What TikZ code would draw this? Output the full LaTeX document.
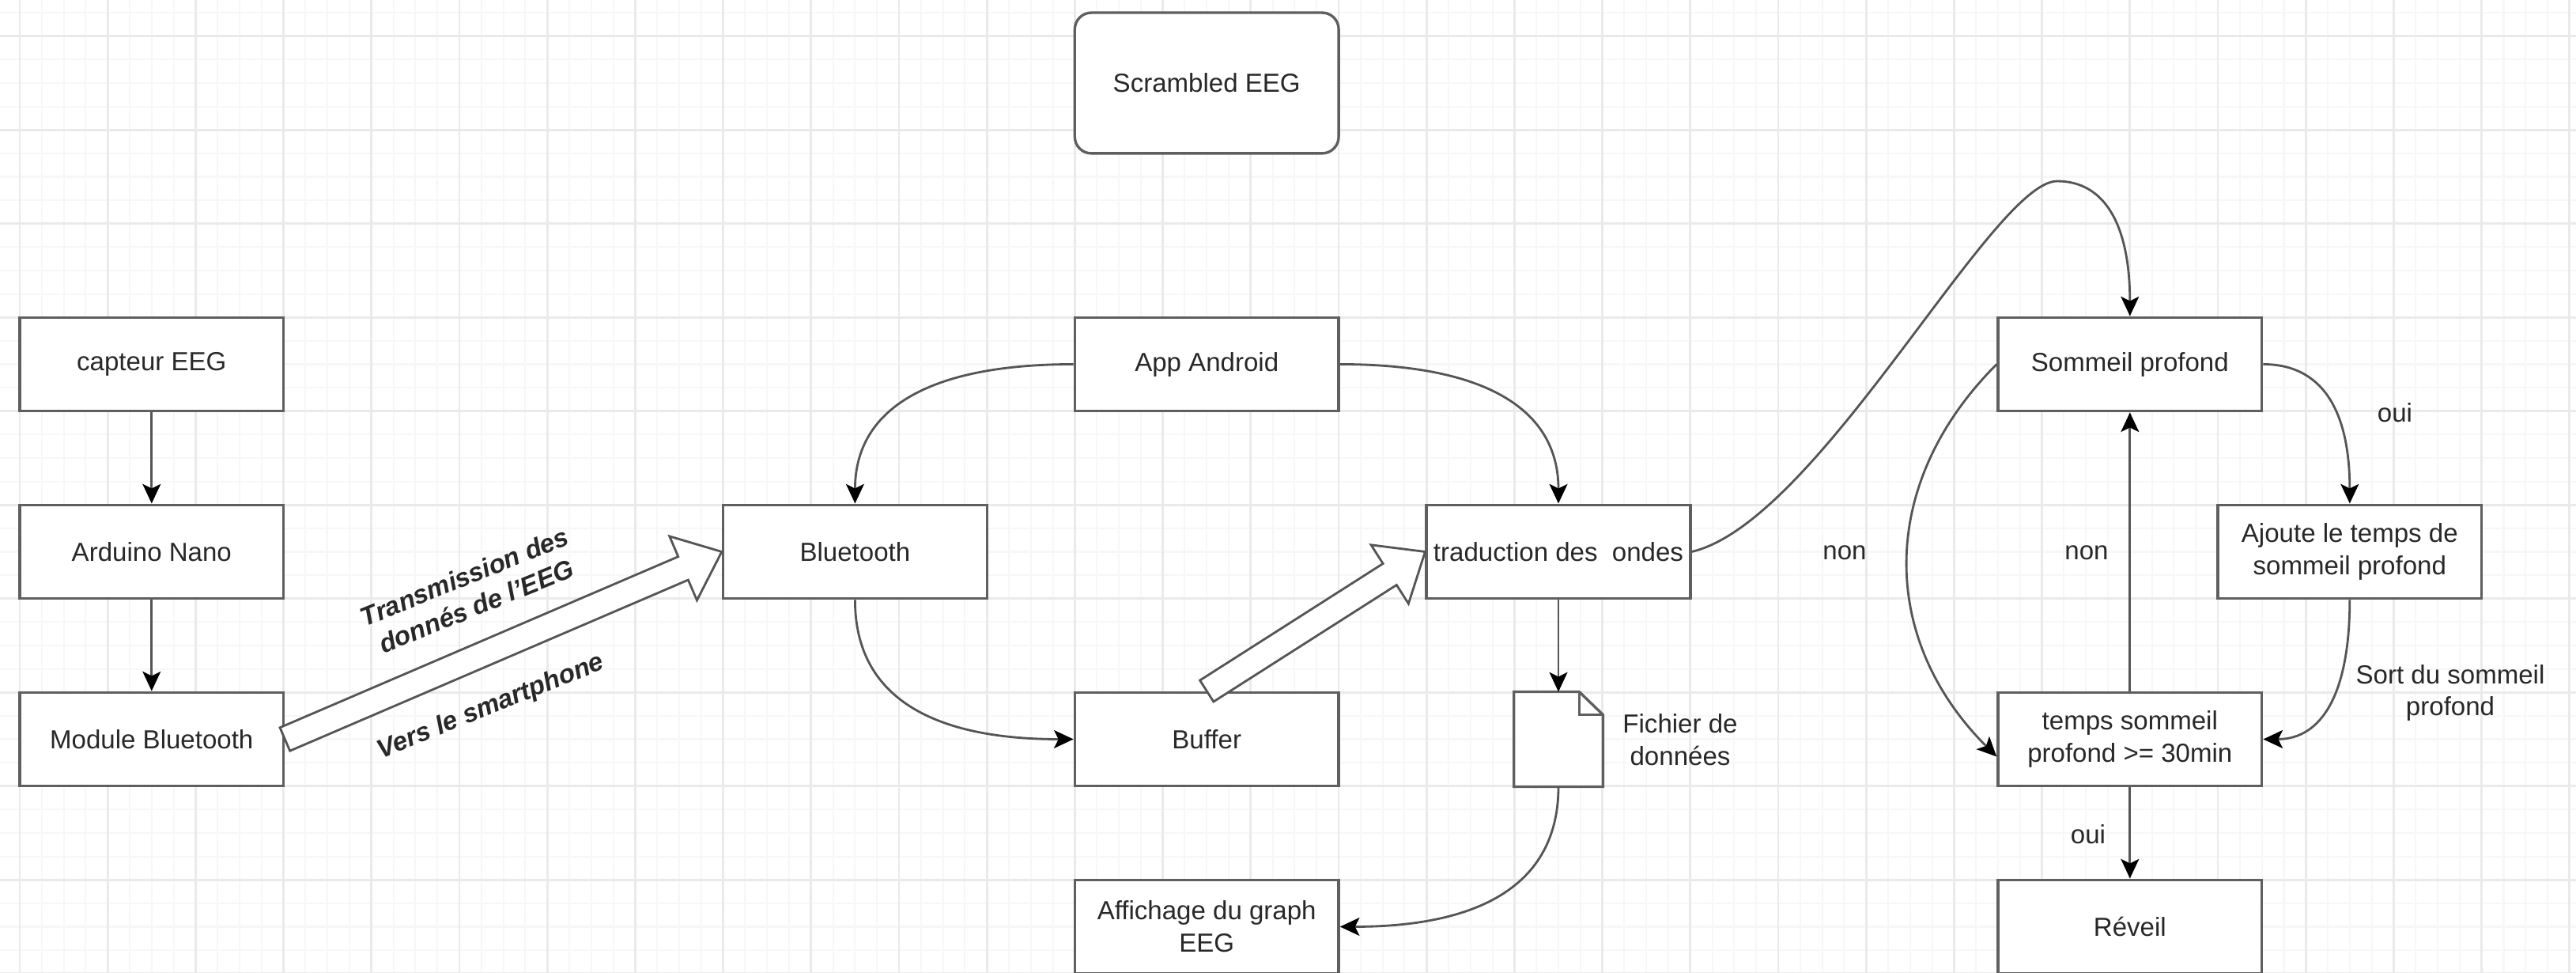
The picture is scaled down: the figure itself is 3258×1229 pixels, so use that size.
\documentclass[tikz,border=0pt]{standalone}
\usepackage{fontspec}
\setmainfont{Liberation Sans}
\usetikzlibrary{arrows.meta,calc}
\definecolor{edgegray}{RGB}{85,85,85}
\definecolor{boxgray}{RGB}{95,95,95}
\definecolor{txt}{RGB}{40,40,40}
\definecolor{gridmajor}{RGB}{234,234,234}
\definecolor{gridminor}{RGB}{247,247,247}
\tikzset{
  box/.style={draw=boxgray, line width=0.95pt, fill=white, minimum width=3.336cm, minimum height=1.185cm,
    inner sep=0pt, text=txt, font=\fontsize{9.4}{11.6}\selectfont, align=center},
  lbl/.style={text=txt, font=\fontsize{9.4}{11.6}\selectfont, align=center, inner sep=0pt},
  slantlbl/.style={text=txt, font=\fontsize{9.4}{11.4}\selectfont\bfseries\itshape, align=center, inner sep=0pt, rotate=22},
  conn/.style={draw=edgegray, line width=0.8pt, -{Stealth[length=7pt,width=6.5pt,inset=1.6pt,color=black]}},
  flex/.style={draw=edgegray, line width=0.8pt, fill=white},
  docshape/.style={draw=boxgray, line width=0.95pt, fill=white},
}
\newcommand{\hollowarrow}[2]{%
  \path (#1) coordinate (ha-a) (#2) coordinate (ha-b);
  \coordinate (ha-c) at ($(ha-b)!0.53cm!(ha-a)$);
  \filldraw[flex] ($(ha-a)!0.16cm!90:(ha-b)$) -- ($(ha-c)!0.16cm!-90:(ha-a)$)
    -- ($(ha-c)!0.44cm!-90:(ha-a)$) -- (ha-b) -- ($(ha-c)!0.44cm!90:(ha-a)$)
    -- ($(ha-c)!0.16cm!90:(ha-a)$) -- ($(ha-a)!0.16cm!-90:(ha-b)$) -- cycle;
}
\begin{document}
\begin{tikzpicture}[x=0.01cm, y=-0.01cm]
\useasboundingbox (0,0) rectangle (3258,1229);
\fill[white] (0,0) rectangle (3258,1229);
% grid
\foreach \j in {0,...,116} \draw[gridminor, line width=0.6pt] ({25+27.8*\j},0) -- ({25+27.8*\j},1229);
\foreach \i in {-1,...,40} \draw[gridminor, line width=0.6pt] (0,{45.7+29.625*\i}) -- (3258,{45.7+29.625*\i});
\foreach \j in {0,...,29} \draw[gridmajor, line width=0.8pt] ({25+111.2*\j},0) -- ({25+111.2*\j},1229);
\foreach \i in {0,...,10} \draw[gridmajor, line width=0.8pt] (0,{45.7+118.5*\i}) -- (3258,{45.7+118.5*\i});

% nodes
\node[box] (capteur) at (191.8,460.45) {capteur EEG};
\node[box] (arduino) at (191.8,697.45) {Arduino Nano};
\node[box] (module) at (191.8,934.45) {Module Bluetooth};
\node[box, rounded corners=0.21cm, minimum height=1.7775cm] (scrambled) at (1526.2,104.95) {Scrambled EEG};
\node[box] (android) at (1526.2,460.45) {App Android};
\node[box] (bt) at (1081.4,697.45) {Bluetooth};
\node[box] (trad) at (1971,697.45) {traduction des\ \ ondes};
\node[box] (buffer) at (1526.2,934.45) {Buffer};
\node[box] (affichage) at (1526.2,1171.45) {Affichage du graph\\EEG};
\node[box] (somm) at (2693.8,460.45) {Sommeil profond};
\node[box] (ajoute) at (2971.8,697.45) {Ajoute le temps de\\sommeil profond};
\node[box] (temps) at (2693.8,934.45) {temps sommeil\\profond >= 30min};
\node[box] (reveil) at (2693.8,1171.45) {Réveil};

% document shape
\node[minimum width=1.112cm, minimum height=1.185cm, inner sep=0pt] (doc) at (1971,934.45) {};
\draw[docshape] (doc.south west) -- (doc.north west) -- ([xshift=-0.3cm]doc.north east)
  -- ([yshift=-0.29cm]doc.north east) -- (doc.south east) -- cycle;
\draw[docshape, fill=none] ([xshift=-0.3cm]doc.north east) |- ([yshift=-0.29cm]doc.north east);

% connectors
\draw[conn] (capteur) -- (arduino);
\draw[conn] (arduino) -- (module);
\draw[conn] (android.west) .. controls +(-185.3,0) and +(0,-118.5) .. (bt.north);
\draw[conn] (android.east) .. controls +(185.3,0) and +(0,-118.5) .. (trad.north);
\draw[conn] (bt.south) .. controls +(0,118.5) and +(-185.3,0) .. (buffer.west);
\draw[conn] (trad) -- (doc);
\draw[conn] (doc.south) .. controls +(0,118.5) and +(185.3,0) .. (affichage.east);
\draw[conn] (trad.east) .. controls (2300,660) and (2520,229) .. (2601.7,229)
  .. controls (2663,229) and (2693.8,286) .. (somm.north);
\draw[conn] (somm.east) .. controls +(74.1,0) and +(0,-118.5) .. (ajoute.north);
\draw[conn] (ajoute.south) .. controls +(0,118.5) and +(74.1,0) .. (temps.east);
\draw[conn] (somm.west) .. controls +(-150,150) and +(-150,-150) .. ([yshift=-0.22cm]temps.west);
\draw[conn] (temps) -- (somm);
\draw[conn] (temps) -- (reveil);

% hollow arrows
\hollowarrow{module.east}{bt.west}
\hollowarrow{buffer.north}{trad.west}

% labels
\node[slantlbl] (t1) at (595,747.5) {Transmission des\\donnés de l'EEG};
\node[slantlbl] (t3) at (621,894) {Vers le smartphone};
\node[lbl] (docl) at (2125,935) {Fichier de\\données};
\node[lbl] (oui1) at (3029,522) {oui};
\node[lbl] (sortl) at (3099,876) {Sort du sommeil\\profond};
\node[lbl] (non1) at (2333,699) {non};
\node[lbl] (non2) at (2639,699) {non};
\node[lbl] (oui2) at (2641,1055) {oui};
\end{tikzpicture}
\end{document}
